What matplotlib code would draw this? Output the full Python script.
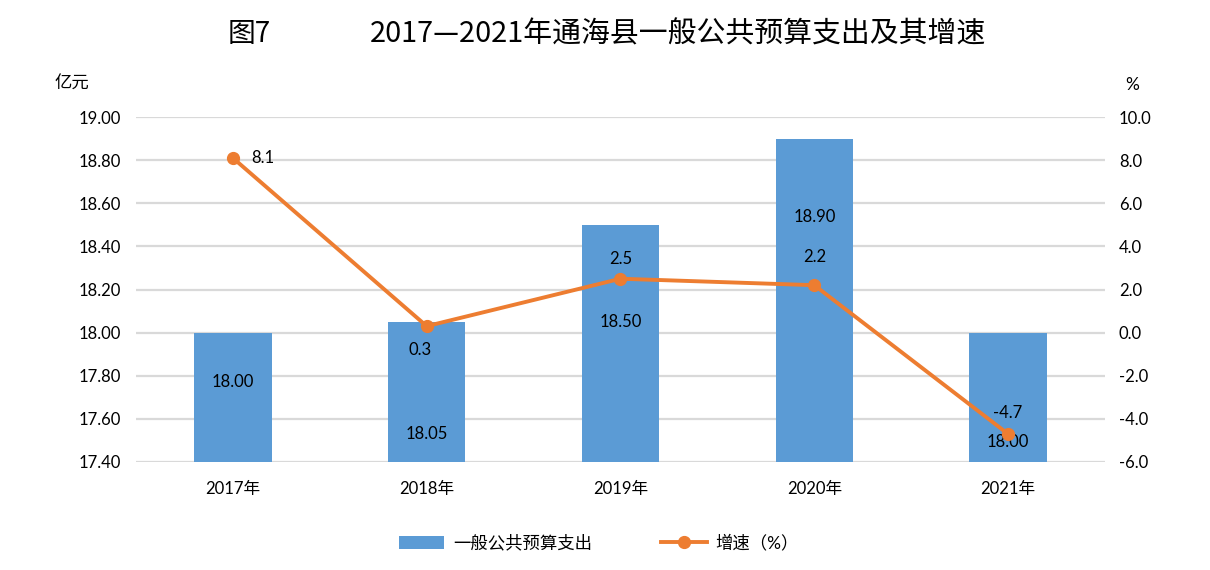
import matplotlib
matplotlib.use("Agg")
import matplotlib.pyplot as plt
from matplotlib.lines import Line2D
from matplotlib.patches import Patch

plt.rcParams['font.family'] = ['Lato', 'Noto Sans CJK SC', 'DejaVu Sans']

years = ['2017年', '2018年', '2019年', '2020年', '2021年']
spending = [18.00, 18.05, 18.50, 18.90, 18.00]
growth = [8.1, 0.3, 2.5, 2.2, -4.7]
left_ticks = [17.40, 17.60, 17.80, 18.00, 18.20, 18.40, 18.60, 18.80, 19.00]
right_ticks = [-6.0, -4.0, -2.0, 0.0, 2.0, 4.0, 6.0, 8.0, 10.0]

# label placements (pixel offsets)
bar_label_dy = [-49, -112, -97, -78, -109]
line_label_off = [(30, 0), (-7, -24), (0, 20), (0, 28), (0, 21)]

BLUE = '#5B9BD5'
ORANGE = '#ED7D31'
GRID = '#D9D9D9'

fig = plt.figure(figsize=(12.1, 5.7), dpi=100)
ax = fig.add_axes([0.1124, 0.1895, 0.8008, 0.6052])
ax2 = ax.twinx()

x = list(range(len(years)))
ax.bar(x, spending, width=0.40, color=BLUE, zorder=2)
ax.set_ylim(left_ticks[0], left_ticks[-1])
ax.set_yticks(left_ticks)
ax.set_yticklabels([f'{v:.2f}' for v in left_ticks], fontsize=12, color='#000000')
ax.set_xlim(-0.5, len(years) - 0.5)
ax.set_xticks(x)
ax.set_xticklabels(years, fontsize=12)
ax.grid(axis='y', color=GRID, linewidth=1.6)
ax.set_axisbelow(True)
ax.tick_params(length=0, pad=11)
ax.tick_params(axis='x', pad=14)
for s in ax.spines.values():
    s.set_visible(False)

for xi, v, dy in zip(x, spending, bar_label_dy):
    ax.annotate(f'{v:.2f}', (xi, v), xytext=(0, dy), textcoords='offset pixels',
                ha='center', va='center', fontsize=12, color='#000000', zorder=5)

ax2.plot(x, growth, color=ORANGE, linewidth=2.8, marker='o', markersize=8.5, zorder=4)
ax2.set_ylim(right_ticks[0], right_ticks[-1])
ax2.set_yticks(right_ticks)
ax2.set_yticklabels([f'{v:.1f}' for v in right_ticks], fontsize=12)
ax2.tick_params(length=0, pad=10)
for s in ax2.spines.values():
    s.set_visible(False)

for xi, v, off in zip(x, growth, line_label_off):
    ax2.annotate(f'{v:.1f}', (xi, v), xytext=off, textcoords='offset pixels',
                 ha='center', va='center', fontsize=12, color='#000000', zorder=6)

fig.text(0.188, 0.94, '图7', fontsize=20, ha='left', va='center',
         family=['Noto Sans CJK SC', 'DejaVu Sans'])
fig.text(0.306, 0.94, '2017—2021年通海县一般公共预算支出及其增速', fontsize=20.8,
         ha='left', va='center', family=['Noto Sans CJK SC', 'DejaVu Sans'])
fig.text(0.045, 0.853, '亿元', fontsize=12.5, ha='left', va='center',
         family=['Noto Sans CJK SC', 'DejaVu Sans'])
fig.text(0.93, 0.85, '%', fontsize=12.5, ha='left', va='center')

handles = [Patch(facecolor=BLUE, edgecolor='none'),
           Line2D([0], [0], color=ORANGE, linewidth=2.8, marker='o', markersize=8.5)]
fig.legend(handles, ['一般公共预算支出', '增速（%）'], loc='center',
           bbox_to_anchor=(0.495, 0.047), ncol=2, frameon=False, fontsize=12.5,
           handlelength=2.6, handleheight=0.8, columnspacing=4.0, handletextpad=0.5)

fig.savefig('out.png', dpi=100)
